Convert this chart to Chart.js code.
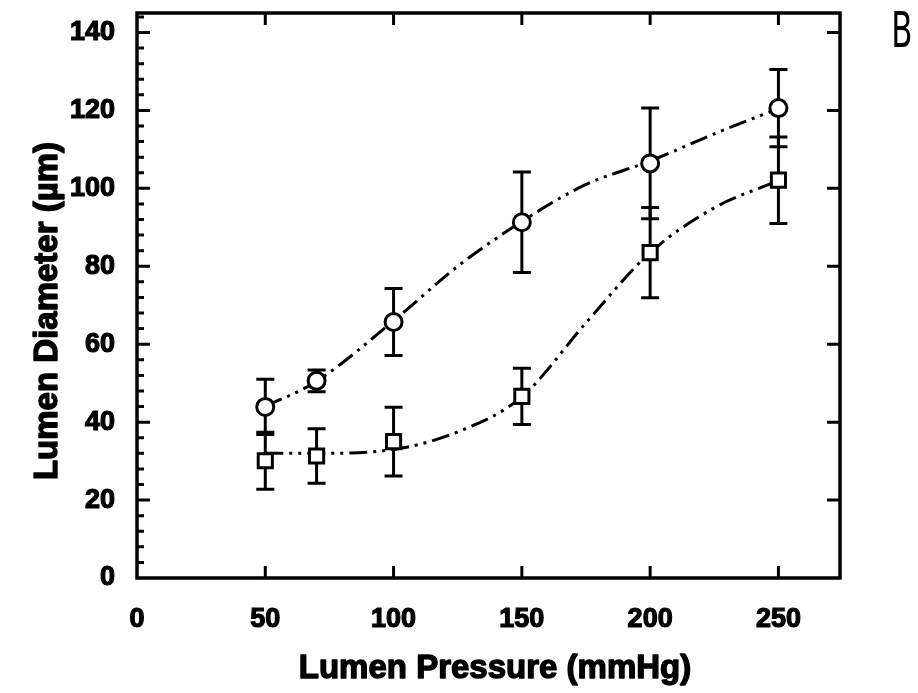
<!DOCTYPE html>
<html>
<head>
<meta charset="utf-8">
<script src="https://cdn.jsdelivr.net/npm/chart.js@4.4.1/dist/chart.umd.min.js"></script>
<style>
  html, body { margin: 0; padding: 0; background: #fff; }
  #wrap { position: relative; width: 918px; height: 693px; }
</style>
</head>
<body>
<div id="wrap"><canvas id="diamChart" width="918" height="693"></canvas></div>
<script>
// pressure steps (mmHg)
const pressures = [50, 70, 100, 150, 200, 250];

// circles (upper series) and squares (lower series), mean +/- error
const circleMean = [43.9, 50.6, 65.7, 91.3, 106.4, 120.6];
const circleErr = [7.1, 2.8, 8.6, 12.9, 14.2, 9.9];
const squareMean = [30.1, 31.3, 35.0, 46.6, 83.5, 102.1];
const squareErr = [7.3, 7.0, 8.8, 7.2, 11.6, 11.1];

// fitted curves
const fitX = [50, 70, 100, 125, 150, 175, 200, 225, 250];
const fitCircle = [44, 50.5, 66, 80, 91.5, 101, 107, 114, 120.5];
const fitSquare = [32, 32, 33, 37.5, 46.5, 65.5, 83.5, 95, 102];

const xTicks = [0, 50, 100, 150, 200, 250];
const yTicks = [0, 20, 40, 60, 80, 100, 120, 140];

const xTitle = 'Lumen Pressure (mmHg)';
const yTitle = 'Lumen Diameter (µm)';

const toPoints = (xs, ys) => xs.map((x, i) => ({ x: x, y: ys[i] }));

const fontFam = '"Liberation Sans", Arial, sans-serif';

// error bars with caps
const errorBars = {
    id: 'errorBars',
    beforeDatasetsDraw(chart) {
        const { ctx, scales: { x, y } } = chart;
        const sets = [[circleMean, circleErr], [squareMean, squareErr]];
        ctx.save();
        ctx.strokeStyle = '#000';
        ctx.lineWidth = 3;
        sets.forEach(([m, e]) => {
            pressures.forEach((p, i) => {
                const px = x.getPixelForValue(p);
                const top = y.getPixelForValue(m[i] + e[i]);
                const bot = y.getPixelForValue(m[i] - e[i]);
                ctx.beginPath();
                ctx.moveTo(px, top); ctx.lineTo(px, bot);
                ctx.moveTo(px - 9, top); ctx.lineTo(px + 9, top);
                ctx.moveTo(px - 9, bot); ctx.lineTo(px + 9, bot);
                ctx.stroke();
            });
        });
        ctx.restore();
    }
};

// box frame with inward ticks, axis titles and the panel letter
const frameTicks = {
    id: 'frameTicks',
    afterDraw(chart) {
        const { ctx, chartArea: a, scales: { x, y } } = chart;
        ctx.save();
        ctx.strokeStyle = '#000';
        ctx.lineWidth = 3;
        ctx.beginPath();
        // x major ticks, bottom and top
        xTicks.slice(1).forEach(v => {
            const px = x.getPixelForValue(v);
            ctx.moveTo(px, a.bottom); ctx.lineTo(px, a.bottom - 12);
            ctx.moveTo(px, a.top); ctx.lineTo(px, a.top + 12);
        });
        // y ticks: major every 20, minor every 4 on the left
        for (let v = 4; v <= 144; v += 4) {
            const py = y.getPixelForValue(v);
            const major = v % 20 === 0;
            ctx.moveTo(a.left, py); ctx.lineTo(a.left + (major ? 13 : 7), py);
            if (major) { ctx.moveTo(a.right, py); ctx.lineTo(a.right - 13, py); }
        }
        ctx.stroke();
        ctx.lineWidth = 3.5;
        ctx.strokeRect(a.left, a.top, a.right - a.left, a.bottom - a.top);

        // axis titles, heavy
        ctx.fillStyle = '#000';
        ctx.lineWidth = 1.4;
        ctx.lineJoin = 'round';
        ctx.font = 'bold 33px ' + fontFam;
        ctx.textAlign = 'center';
        ctx.textBaseline = 'alphabetic';
        ctx.fillText(xTitle, 495, 678);
        ctx.strokeText(xTitle, 495, 678);

        ctx.save();
        ctx.translate(57, 311);
        ctx.rotate(-Math.PI / 2);
        ctx.fillText(yTitle, 0, 0);
        ctx.strokeText(yTitle, 0, 0);
        ctx.restore();

        // handwritten panel letter
        ctx.save();
        ctx.translate(902, 47);
        ctx.scale(0.62, 1);
        ctx.font = '50px "DejaVu Sans", sans-serif';
        ctx.textBaseline = 'alphabetic';
        ctx.fillText('B', 0, 0);
        ctx.restore();
        ctx.restore();
    }
};

const tickFont = { family: fontFam, size: 27, weight: 'bold' };

const ctx = document.getElementById('diamChart').getContext('2d');

new Chart(ctx, {
    type: 'scatter',
    data: {
        datasets: [
            {
                label: 'fit circle',
                data: toPoints(fitX, fitCircle),
                showLine: true,
                borderColor: '#000',
                borderWidth: 3,
                borderDash: [18, 6, 3, 6, 3, 6],
                cubicInterpolationMode: 'monotone',
                pointRadius: 0,
                order: 3
            },
            {
                label: 'fit square',
                data: toPoints(fitX, fitSquare),
                showLine: true,
                borderColor: '#000',
                borderWidth: 3,
                borderDash: [18, 6, 3, 6, 3, 6],
                cubicInterpolationMode: 'monotone',
                pointRadius: 0,
                order: 3
            },
            {
                label: 'circle',
                data: toPoints(pressures, circleMean),
                pointStyle: 'circle',
                pointRadius: 8.5,
                pointBorderWidth: 3,
                pointBorderColor: '#000',
                pointBackgroundColor: '#fff',
                order: 1
            },
            {
                label: 'square',
                data: toPoints(pressures, squareMean),
                pointStyle: 'rect',
                pointRadius: 10,
                pointBorderWidth: 3,
                pointBorderColor: '#000',
                pointBackgroundColor: '#fff',
                order: 1
            }
        ]
    },
    options: {
        responsive: false,
        animation: false,
        layout: { padding: { left: 0, top: 11, right: 78, bottom: 0 } },
        plugins: {
            legend: { display: false },
            tooltip: { enabled: false }
        },
        scales: {
            x: {
                type: 'linear',
                min: 0,
                max: 274,
                afterBuildTicks: s => { s.ticks = xTicks.map(v => ({ value: v })); },
                afterFit: s => {
                    s.height = 115;
                    s.paddingLeft = 0; s.paddingRight = 0;
                },
                grid: { display: false, drawTicks: false },
                border: { display: false },
                ticks: {
                    color: '#000',
                    padding: 25,
                    maxRotation: 0,
                    textStrokeColor: '#000',
                    textStrokeWidth: 1.2,
                    font: tickFont
                }
            },
            y: {
                type: 'linear',
                min: 0,
                max: 145,
                afterBuildTicks: s => { s.ticks = yTicks.map(v => ({ value: v })); },
                afterFit: s => {
                    s.width = 137;
                    s.paddingTop = 0; s.paddingBottom = 0;
                },
                grid: { display: false, drawTicks: false },
                border: { display: false },
                ticks: {
                    color: '#000',
                    padding: 22,
                    textStrokeColor: '#000',
                    textStrokeWidth: 1.2,
                    font: tickFont
                }
            }
        }
    },
    plugins: [errorBars, frameTicks]
});
</script>
</body>
</html>
